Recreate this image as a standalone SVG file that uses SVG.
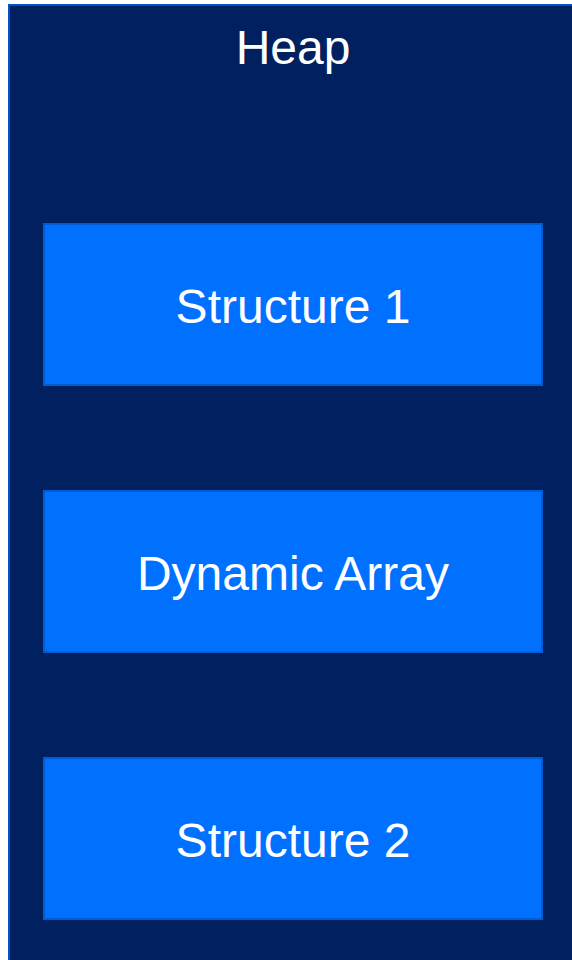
<svg xmlns="http://www.w3.org/2000/svg" width="572" height="960" viewBox="0 0 572 960">
<style>
.box{fill:#0070FF;stroke:#005CD0;stroke-width:2}
.lbl{font-family:"Liberation Sans",Arial,sans-serif;font-size:48px;fill:#FFFFFF;text-anchor:middle}
</style>
<rect width="572" height="960" fill="#FFFFFF"/>
<g id="heap">
<rect x="9" y="5" width="600" height="1000" fill="#002060" stroke="#0050C8" stroke-width="2"/>
<text class="lbl" x="293" y="64">Heap</text>
</g>
<g id="structure1">
<rect class="box" x="44" y="224" width="498" height="161"/>
<text class="lbl" x="293" y="323">Structure 1</text>
</g>
<g id="dynamicArray">
<rect class="box" x="44" y="491" width="498" height="161"/>
<text class="lbl" x="293" y="590">Dynamic Array</text>
</g>
<g id="structure2">
<rect class="box" x="44" y="758" width="498" height="161"/>
<text class="lbl" x="293" y="857">Structure 2</text>
</g>
<g id="connectors"></g>
</svg>
